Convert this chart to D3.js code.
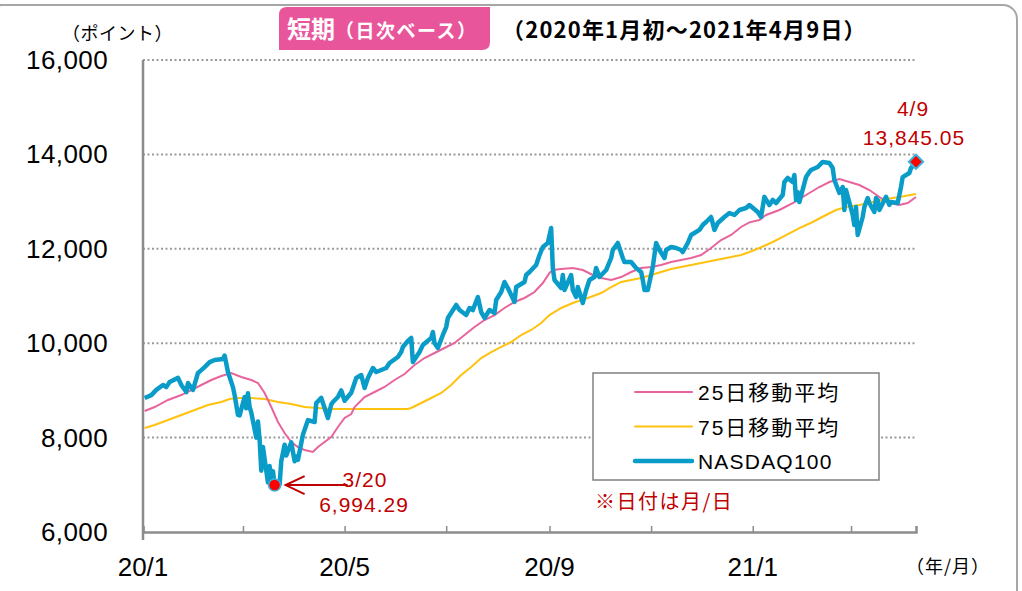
<!DOCTYPE html>
<html>
<head>
<meta charset="utf-8">
<script src="https://cdn.jsdelivr.net/npm/d3@7"></script>
<style>
  body { margin: 0; background: #fff; }
  svg text { font-family: "Liberation Sans", Arial, "Noto Sans CJK JP", sans-serif; }
  .jp { font-family: "Noto Sans CJK JP", "Liberation Sans", sans-serif; }
</style>
</head>
<body>
<script>
const width = 1022
const height = 591

// NASDAQ100 daily closes
const nasdaq = [
  ["2020-01-02", 8840], ["2020-01-06", 8900], ["2020-01-09", 9010], ["2020-01-13", 9115],
  ["2020-01-15", 9070], ["2020-01-17", 9180], ["2020-01-22", 9265], ["2020-01-24", 9115],
  ["2020-01-27", 8965], ["2020-01-28", 9155], ["2020-01-31", 9010], ["2020-02-03", 9370],
  ["2020-02-05", 9430], ["2020-02-07", 9495], ["2020-02-10", 9600], ["2020-02-13", 9645],
  ["2020-02-18", 9665], ["2020-02-19", 9740], ["2020-02-21", 9390], ["2020-02-24", 9070],
  ["2020-02-25", 8900], ["2020-02-27", 8480], ["2020-02-28", 8470], ["2020-03-02", 8860],
  ["2020-03-03", 8620], ["2020-03-04", 8940], ["2020-03-05", 8650], ["2020-03-06", 8530],
  ["2020-03-09", 8000], ["2020-03-10", 8340], ["2020-03-11", 7950], ["2020-03-12", 7300],
  ["2020-03-13", 7800], ["2020-03-16", 7050], ["2020-03-17", 7400], ["2020-03-18", 7100],
  ["2020-03-19", 7290], ["2020-03-20", 6994.29], ["2020-03-23", 7006], ["2020-03-24", 7500],
  ["2020-03-26", 7850], ["2020-03-27", 7620], ["2020-03-30", 7900], ["2020-04-01", 7500],
  ["2020-04-02", 7600], ["2020-04-03", 7530], ["2020-04-06", 8060], ["2020-04-08", 8265],
  ["2020-04-09", 8370], ["2020-04-13", 8330], ["2020-04-14", 8733], ["2020-04-17", 8840],
  ["2020-04-21", 8415], ["2020-04-23", 8700], ["2020-04-24", 8754], ["2020-04-27", 8860],
  ["2020-04-29", 9000], ["2020-05-01", 8780], ["2020-05-05", 8950], ["2020-05-08", 9263],
  ["2020-05-11", 9326], ["2020-05-13", 9050], ["2020-05-15", 9263], ["2020-05-18", 9475],
  ["2020-05-20", 9390], ["2020-05-26", 9475], ["2020-05-28", 9580], ["2020-06-02", 9708],
  ["2020-06-04", 9813], ["2020-06-05", 9920], ["2020-06-08", 10050], ["2020-06-10", 10110],
  ["2020-06-11", 9600], ["2020-06-15", 9813], ["2020-06-17", 9960], ["2020-06-22", 10110],
  ["2020-06-23", 10237], ["2020-06-24", 10000], ["2020-06-26", 9898], ["2020-06-29", 10174],
  ["2020-07-01", 10343], ["2020-07-02", 10534], ["2020-07-07", 10810], ["2020-07-09", 10703],
  ["2020-07-13", 10597], ["2020-07-15", 10746], ["2020-07-17", 10703], ["2020-07-20", 10979],
  ["2020-07-22", 10660], ["2020-07-24", 10534], ["2020-07-27", 10703], ["2020-07-30", 10640],
  ["2020-07-31", 10915], ["2020-08-03", 11085], ["2020-08-05", 11297], ["2020-08-07", 11170],
  ["2020-08-11", 10873], ["2020-08-12", 11190], ["2020-08-17", 11297], ["2020-08-18", 11445],
  ["2020-08-20", 11508], ["2020-08-24", 11657], ["2020-08-26", 11868], ["2020-08-28", 12038],
  ["2020-08-31", 12123], ["2020-09-02", 12440], ["2020-09-03", 11593], ["2020-09-04", 11340],
  ["2020-09-08", 11170], ["2020-09-09", 11445], ["2020-09-10", 11127], ["2020-09-14", 11445],
  ["2020-09-15", 11127], ["2020-09-17", 10979], ["2020-09-18", 11190], ["2020-09-21", 10852],
  ["2020-09-23", 11127], ["2020-09-25", 11340], ["2020-09-28", 11402], ["2020-09-29", 11593],
  ["2020-10-01", 11402], ["2020-10-05", 11550], ["2020-10-08", 11805], ["2020-10-09", 11975],
  ["2020-10-12", 12123], ["2020-10-13", 12017], ["2020-10-15", 11805], ["2020-10-16", 11720],
  ["2020-10-20", 11720], ["2020-10-23", 11593], ["2020-10-26", 11508], ["2020-10-27", 11340],
  ["2020-10-28", 11127], ["2020-10-30", 11127], ["2020-11-02", 11614], ["2020-11-04", 12123],
  ["2020-11-06", 11975], ["2020-11-09", 11805], ["2020-11-10", 11975], ["2020-11-13", 12038],
  ["2020-11-16", 12017], ["2020-11-19", 11975], ["2020-11-20", 11932], ["2020-11-23", 12123],
  ["2020-11-25", 12292], ["2020-11-27", 12335], ["2020-11-30", 12400], ["2020-12-02", 12504],
  ["2020-12-04", 12568], ["2020-12-07", 12674], ["2020-12-09", 12400], ["2020-12-11", 12547],
  ["2020-12-15", 12674], ["2020-12-18", 12758], ["2020-12-21", 12716], ["2020-12-24", 12822],
  ["2020-12-28", 12864], ["2020-12-30", 12928], ["2021-01-04", 12780], ["2021-01-06", 12674],
  ["2021-01-08", 13100], ["2021-01-11", 12928], ["2021-01-13", 13034], ["2021-01-15", 12970],
  ["2021-01-19", 13140], ["2021-01-20", 13415], ["2021-01-22", 13500], ["2021-01-25", 13415],
  ["2021-01-26", 13563], ["2021-01-27", 13034], ["2021-01-28", 13200], ["2021-01-29", 12990],
  ["2021-02-02", 13520], ["2021-02-04", 13627], ["2021-02-05", 13670], ["2021-02-09", 13733],
  ["2021-02-12", 13840], ["2021-02-16", 13818], ["2021-02-18", 13712], ["2021-02-19", 13457],
  ["2021-02-22", 13182], ["2021-02-24", 13309], ["2021-02-25", 12822], ["2021-02-26", 13245],
  ["2021-03-02", 12716], ["2021-03-03", 12504], ["2021-03-04", 12885], ["2021-03-05", 12292],
  ["2021-03-08", 12674], ["2021-03-09", 12885], ["2021-03-11", 13076], ["2021-03-12", 12970],
  ["2021-03-15", 12780], ["2021-03-16", 13076], ["2021-03-17", 13034], ["2021-03-18", 12822],
  ["2021-03-22", 13100], ["2021-03-24", 12928], ["2021-03-25", 12990], ["2021-03-29", 12970],
  ["2021-03-31", 13310], ["2021-04-01", 13520], ["2021-04-05", 13605], ["2021-04-06", 13712],
  ["2021-04-08", 13780], ["2021-04-09", 13845.05]
]

// 25-day moving average
const ma25 = [
  ["2020-01-02", 8563], ["2020-01-08", 8648], ["2020-01-16", 8797], ["2020-01-24", 8902],
  ["2020-01-30", 9008], ["2020-02-05", 9114], ["2020-02-11", 9220], ["2020-02-17", 9305],
  ["2020-02-23", 9369], ["2020-02-29", 9284], ["2020-03-06", 9220], ["2020-03-10", 9157],
  ["2020-03-14", 8945], ["2020-03-18", 8648], ["2020-03-22", 8330], ["2020-03-26", 8097],
  ["2020-03-30", 7907], ["2020-04-03", 7800], ["2020-04-07", 7737], ["2020-04-12", 7695],
  ["2020-04-15", 7800], ["2020-04-19", 7907], ["2020-04-23", 8013], ["2020-04-27", 8225],
  ["2020-05-01", 8415], ["2020-05-05", 8500], ["2020-05-07", 8648], ["2020-05-13", 8860],
  ["2020-05-19", 8966], ["2020-05-25", 9072], ["2020-05-31", 9220], ["2020-06-06", 9347],
  ["2020-06-12", 9538], ["2020-06-18", 9686], ["2020-06-24", 9792], ["2020-06-30", 9898],
  ["2020-07-06", 10004], ["2020-07-12", 10174], ["2020-07-18", 10343], ["2020-07-24", 10491],
  ["2020-07-30", 10597], ["2020-08-05", 10746], ["2020-08-11", 10873], ["2020-08-17", 10958],
  ["2020-08-23", 11085], ["2020-08-28", 11275], ["2020-09-01", 11487], ["2020-09-03", 11551],
  ["2020-09-08", 11572], ["2020-09-15", 11593], ["2020-09-21", 11551], ["2020-09-27", 11445],
  ["2020-10-02", 11381], ["2020-10-08", 11340], ["2020-10-14", 11402], ["2020-10-20", 11508],
  ["2020-10-26", 11593], ["2020-11-01", 11614], ["2020-11-07", 11657], ["2020-11-13", 11720],
  ["2020-11-19", 11763], ["2020-11-25", 11805], ["2020-12-01", 11868], ["2020-12-07", 12017],
  ["2020-12-13", 12186], ["2020-12-19", 12292], ["2020-12-25", 12462], ["2020-12-30", 12560],
  ["2021-01-05", 12610], ["2021-01-09", 12716], ["2021-01-17", 12822], ["2021-01-25", 12970],
  ["2021-02-02", 13140], ["2021-02-10", 13309], ["2021-02-16", 13415], ["2021-02-22", 13479],
  ["2021-02-28", 13415], ["2021-03-06", 13352], ["2021-03-12", 13245], ["2021-03-18", 13097],
  ["2021-03-24", 12970], ["2021-03-30", 12928], ["2021-04-04", 12970], ["2021-04-09", 13097]
]

// 75-day moving average
const ma75 = [
  ["2020-01-02", 8203], ["2020-01-08", 8267], ["2020-01-16", 8373], ["2020-01-24", 8479],
  ["2020-02-01", 8585], ["2020-02-09", 8690], ["2020-02-17", 8754], ["2020-02-22", 8818],
  ["2020-02-27", 8839], ["2020-03-06", 8839], ["2020-03-14", 8818], ["2020-03-22", 8754],
  ["2020-03-30", 8712], ["2020-04-07", 8648], ["2020-04-15", 8627], ["2020-04-23", 8606],
  ["2020-05-05", 8606], ["2020-06-08", 8606], ["2020-06-10", 8627], ["2020-06-16", 8733],
  ["2020-06-22", 8839], ["2020-06-28", 8945], ["2020-07-04", 9114], ["2020-07-10", 9326],
  ["2020-07-16", 9496], ["2020-07-22", 9686], ["2020-07-28", 9813], ["2020-08-03", 9920],
  ["2020-08-09", 10025], ["2020-08-15", 10174], ["2020-08-21", 10280], ["2020-08-27", 10428],
  ["2020-09-01", 10597], ["2020-09-08", 10746], ["2020-09-15", 10852], ["2020-09-24", 10958],
  ["2020-10-02", 11063], ["2020-10-08", 11190], ["2020-10-14", 11297], ["2020-10-20", 11340],
  ["2020-10-26", 11381], ["2020-11-01", 11445], ["2020-11-07", 11508], ["2020-11-13", 11572],
  ["2020-11-19", 11614], ["2020-11-25", 11657], ["2020-12-01", 11700], ["2020-12-07", 11741],
  ["2020-12-13", 11784], ["2020-12-19", 11826], ["2020-12-25", 11868], ["2020-12-30", 11932],
  ["2021-01-05", 12017], ["2021-01-13", 12144], ["2021-01-21", 12292], ["2021-01-29", 12440],
  ["2021-02-06", 12568], ["2021-02-14", 12716], ["2021-02-20", 12822], ["2021-02-26", 12885],
  ["2021-03-06", 12928], ["2021-03-14", 12990], ["2021-03-22", 13055], ["2021-03-30", 13097],
  ["2021-04-09", 13161]
]

const yTicks = [6000, 8000, 10000, 12000, 14000, 16000]
const xLabelMonths = [0, 4, 8] // months that carry a "yy/m" label
const legendItems = [
  { label: "25日移動平均", color: "#e8649c", w: 2 },
  { label: "75日移動平均", color: "#ffc20e", w: 2 },
  { label: "NASDAQ100", color: "#0a9cc8", w: 4.5 }
]
const lowNote = { date: "2020-03-20", day: "3/20", text: "6,994.29" }
const lastNote = { date: "2021-04-09", day: "4/9", text: "13,845.05" }

const parse = d3.timeParse("%Y-%m-%d")
const rows = arr => arr.map(([d, v]) => ({ date: parse(d), value: v }))

const x = d3.scaleTime()
  .domain([new Date(2020, 0, 1), new Date(2021, 3, 9)])
  .range([143, 916])
const y = d3.scaleLinear().domain([6000, 16000]).range([532, 60])

const svg = d3.select("body").append("svg")
  .attr("width", width).attr("height", height)

// outer rounded frame
svg.append("rect")
  .attr("x", -12).attr("y", 5).attr("width", 1029).attr("height", 620)
  .attr("rx", 14).attr("fill", "none").attr("stroke", "#a6a6a6").attr("stroke-width", 2)

// dotted grid
svg.append("g").selectAll("line")
  .data(yTicks.filter(t => t > 6000))
  .join("line")
  .attr("x1", 143).attr("x2", 916)
  .attr("y1", d => y(d)).attr("y2", d => y(d))
  .attr("stroke", "#9a9a9a").attr("stroke-width", 2).attr("stroke-dasharray", "2,2.5")

// y labels
svg.append("g").selectAll("text")
  .data(yTicks)
  .join("text")
  .attr("x", 108).attr("y", d => y(d) + 9)
  .attr("text-anchor", "end")
  .attr("font-size", 26).attr("letter-spacing", 0.4).attr("fill", "#000")
  .text(d => d3.format(",")(d))

// x axis
const xAxis = d3.axisBottom(x)
  .ticks(d3.timeMonth.every(2))
  .tickSize(-6)
  .tickFormat("")
const gx = svg.append("g").attr("transform", "translate(0,532)").call(xAxis)
gx.select(".domain").attr("stroke", "#8c8c8c").attr("stroke-width", 2.5)
gx.selectAll(".tick line").attr("stroke", "#8c8c8c").attr("stroke-width", 1.5)

svg.append("g").selectAll("text")
  .data(x.ticks(d3.timeMonth.every(2)).filter(d => xLabelMonths.includes(d.getMonth())))
  .join("text")
  .attr("x", d => x(d)).attr("y", 576)
  .attr("text-anchor", "middle").attr("font-size", 26).attr("fill", "#000")
  .text(d => d3.timeFormat("%y/")(d) + (d.getMonth() + 1))

// y axis line
svg.append("line")
  .attr("x1", 143).attr("x2", 143).attr("y1", 60).attr("y2", 540)
  .attr("stroke", "#8c8c8c").attr("stroke-width", 2.5)

const line = d3.line().x(d => x(d.date)).y(d => y(d.value))

svg.append("path").datum(rows(ma75))
  .attr("d", line).attr("fill", "none")
  .attr("stroke", legendItems[1].color).attr("stroke-width", 2)
svg.append("path").datum(rows(ma25))
  .attr("d", line).attr("fill", "none")
  .attr("stroke", legendItems[0].color).attr("stroke-width", 2)
const nd = rows(nasdaq)
svg.append("path").datum(nd)
  .attr("d", line).attr("fill", "none")
  .attr("stroke", legendItems[2].color).attr("stroke-width", 4.5)
  .attr("stroke-linejoin", "round")

// markers
const low = nd.find(d => +d.date === +parse(lowNote.date))
const last = nd.find(d => +d.date === +parse(lastNote.date))
svg.append("circle")
  .attr("cx", x(low.date)).attr("cy", y(low.value)).attr("r", 6)
  .attr("fill", "#ff0000").attr("stroke", "#3bb3de").attr("stroke-width", 1.5)
svg.append("path")
  .attr("d", d3.symbol(d3.symbolDiamond2, 130)())
  .attr("transform", `translate(${x(last.date)},${y(last.value)})`)
  .attr("fill", "#ff0000").attr("stroke", "#3bb3de").attr("stroke-width", 2)

const red = "#c00000"
// arrow to the low
const ax = x(low.date) + 11, ay = y(low.value)
svg.append("path")
  .attr("d", `M${ax + 62},${ay}L${ax},${ay}M${ax + 19},${ay - 9}L${ax},${ay}L${ax + 19},${ay + 9}`)
  .attr("fill", "none").attr("stroke", red).attr("stroke-width", 2)

const noteText = (tx, ty, s) => svg.append("text").attr("x", tx).attr("y", ty)
  .attr("text-anchor", "middle").attr("font-size", 21).attr("letter-spacing", 1)
  .attr("fill", red).text(s)
noteText(365, 487, lowNote.day)
noteText(364, 512, lowNote.text)
noteText(913, 116, lastNote.day)
noteText(914, 145, lastNote.text)

// legend
const lg = svg.append("g")
lg.append("rect").attr("x", 593).attr("y", 373).attr("width", 286).attr("height", 107)
  .attr("fill", "#fff").attr("stroke", "#808080").attr("stroke-width", 1.5)
legendItems.forEach((it, i) => {
  const ly = 392 + i * 34.5
  lg.append("line").attr("x1", 635).attr("x2", 692).attr("y1", ly).attr("y2", ly)
    .attr("stroke", it.color).attr("stroke-width", it.w).attr("stroke-linecap", "round")
  lg.append("text").attr("x", 698).attr("y", ly + 8)
    .attr("font-size", 21).attr("letter-spacing", i === 2 ? 1.2 : 2)
    .attr("fill", "#000").text(it.label)
})
svg.append("text").attr("x", 595).attr("y", 509)
  .attr("class", "jp").attr("font-size", 20).attr("letter-spacing", 1.5)
  .attr("fill", red).text("※日付は月/日")

// titles
svg.append("text").attr("x", 62).attr("y", 40)
  .attr("class", "jp").attr("font-size", 18).attr("letter-spacing", 0.5)
  .attr("fill", "#000").text("（ポイント）")
svg.append("text").attr("x", 990).attr("y", 573)
  .attr("class", "jp").attr("font-size", 18).attr("letter-spacing", 1).attr("text-anchor", "end")
  .attr("fill", "#000").text("（年/月）")

svg.append("path")
  .attr("d", "M279,15 Q279,7 287,7 L490,7 L490,42 Q490,50 482,50 L279,50 Z")
  .attr("fill", "#e9559b")
const t1 = svg.append("text").attr("x", 287).attr("y", 38)
  .attr("class", "jp").attr("fill", "#fff").attr("font-weight", "bold")
t1.append("tspan").attr("font-size", 24).text("短期")
t1.append("tspan").attr("font-size", 19).attr("letter-spacing", 1.5).text("（日次ベース）")

svg.append("text").attr("x", 502).attr("y", 38)
  .attr("class", "jp").attr("font-size", 22).attr("font-weight", "bold")
  .attr("letter-spacing", 1.2).attr("fill", "#000")
  .text("（2020年1月初～2021年4月9日）")
</script>
</body>
</html>
